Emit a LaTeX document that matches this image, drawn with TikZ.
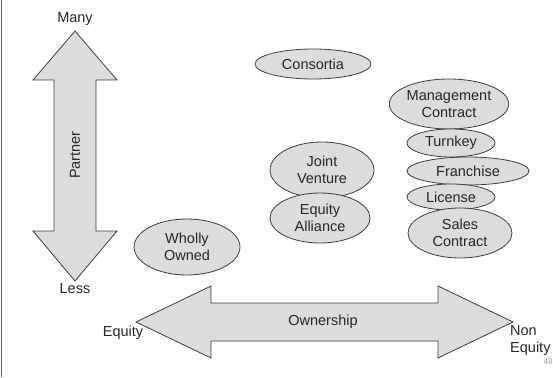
\documentclass[tikz,border=0pt]{standalone}
\usepackage{fontspec}
\setmainfont{Liberation Sans}
\usetikzlibrary{shapes.geometric}
\definecolor{shade}{HTML}{DCDCDC}
\definecolor{rim}{HTML}{3C3C3C}
\begin{document}
\begin{tikzpicture}[x=1pt,y=-1pt,
    every node/.style={font=\fontsize{14.5}{17}\selectfont, text=black!85},
    oval/.style={ellipse, draw=rim, fill=shade, line width=0.8pt, inner sep=0pt, align=center},
    bigarrow/.style={draw=rim, fill=shade, line width=0.8pt, line join=miter}]
    \useasboundingbox (0,0) rectangle (553,377);
    \draw[color=gray!70!blue, line width=1pt] (1.5,0) -- (1.5,377);

    % the two axes
    \draw[bigarrow] (75,31) -- (117,80) -- (96,80) -- (96,231) -- (117,231) -- (75,281)
        -- (33,231) -- (54,231) -- (54,80) -- (33,80) -- cycle;
    \draw[bigarrow] (136,322) -- (211,286) -- (211,303) -- (438,303) -- (438,286) -- (513,322)
        -- (438,358) -- (438,341) -- (211,341) -- (211,358) -- cycle;

    \node (many) at (75,19) {Many};
    \node (less) at (75,289) {Less};
    \node[rotate=90] (partner) at (75,155) {Partner};
    \node (own) at (323,322) {Ownership};
    \node (eq) at (123,333) {Equity};
    \node[anchor=west, align=left, inner sep=0pt] (noneq) at (510,341) {Non\\Equity};
    \node[font=\fontsize{8}{9}\selectfont, text=gray!80] (pg) at (548,362) {48};

    % entry modes
    \node[oval, minimum width=116pt, minimum height=30pt] (cons) at (313,64) {Consortia};
    \node[oval, minimum width=104pt, minimum height=56pt] (jv) at (322,170) {Joint\\Venture};
    \node[oval, minimum width=100pt, minimum height=50pt] (ea) at (320,218) {Equity\\Alliance};
    \node[oval, minimum width=106pt, minimum height=56pt] (wo) at (187,247) {Wholly\\Owned};

    \node[oval, minimum width=118pt, minimum height=50pt] (mgmt) at (449,104) {Management\\Contract};
    \node[oval, minimum width=88pt, minimum height=28pt] (turn) at (451,143) {Turnkey};
    \node[oval, minimum width=122pt, minimum height=28pt] (fran) at (468,171) {Franchise};
    \node[oval, minimum width=88pt, minimum height=26pt] (lic) at (451,197) {License};
    \node[oval, minimum width=104pt, minimum height=50pt] (sales) at (460,233) {Sales\\Contract};
\end{tikzpicture}
\end{document}
